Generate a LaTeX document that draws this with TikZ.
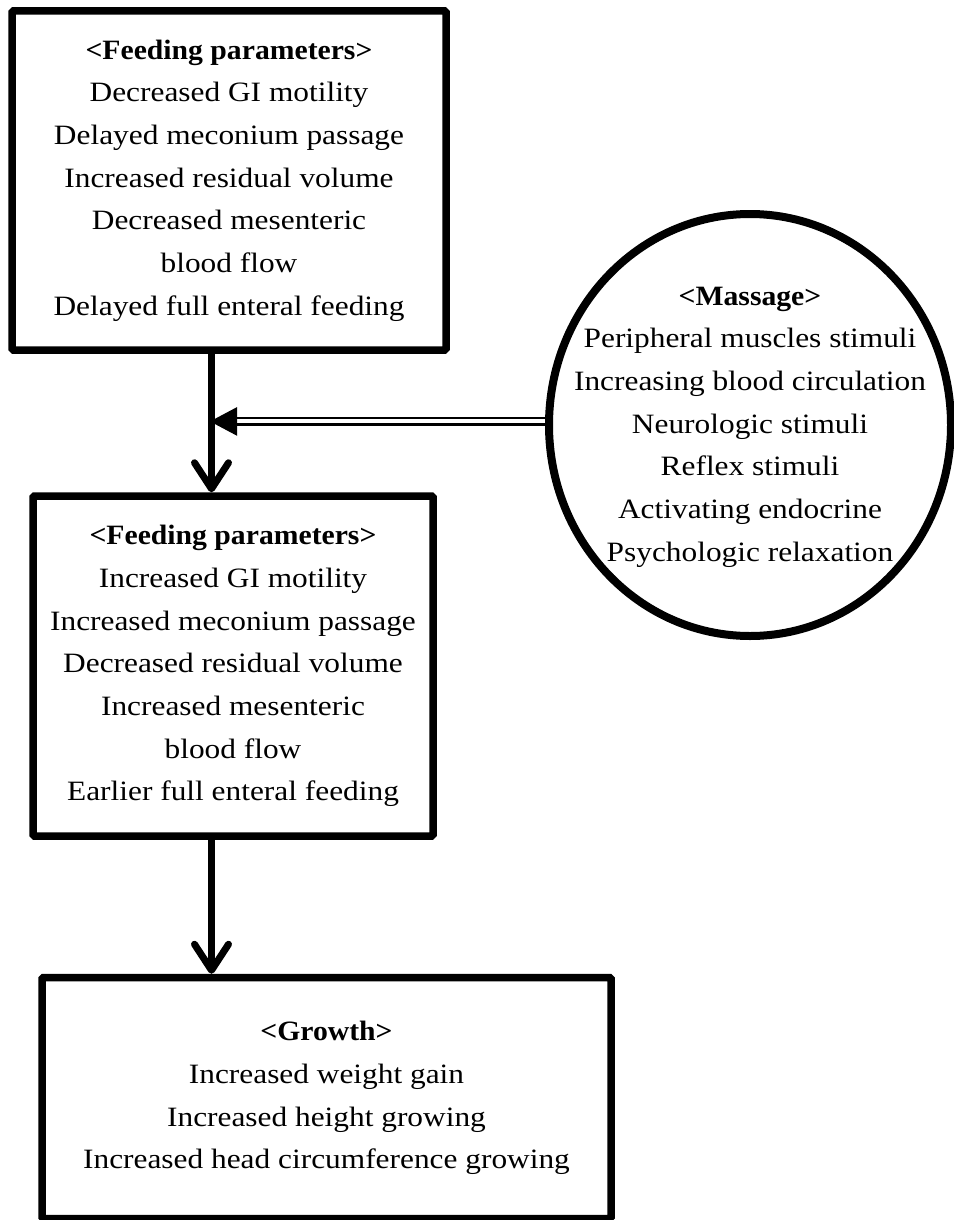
\documentclass[tikz,border=0pt]{standalone}
\usepackage{fontspec}
\setmainfont{Liberation Serif}[FakeStretch=1.12]
\newfontfamily\headfont{Liberation Serif}[FakeStretch=1.06]
\usetikzlibrary{arrows.meta,positioning,shapes.geometric}

\begin{document}
\begin{tikzpicture}[
  x=1pt,y=1pt,
  txt/.style={align=center,inner sep=0pt,font=\fontsize{28}{42.7}\selectfont},
  box/.style={txt,draw,line width=7.5pt,rounded corners=1.5pt},
  circ/.style={ellipse,draw,line width=8pt,inner sep=0pt,
    minimum width=402pt,minimum height=422pt},
  flow/.style={line width=7pt,-{Straight Barb[length=26pt,width=34pt,round]}},
  effect/.style={double,line width=2.5pt,double distance=4pt,
    -{Triangle[length=27pt,width=28pt]}}
]
\useasboundingbox (0,0) rectangle (953,-1220);
% feeding before massage
\node[box,minimum width=434pt,minimum height=339pt] (fpbefore) at (229,-180.5)
  {{\headfont\bfseries <Feeding parameters>}\\
   Decreased GI motility\\
   Delayed meconium passage\\
   Increased residual volume\\
   Decreased mesenteric\\
   blood flow\\
   Delayed full enteral feeding};
% feeding after massage
\node[box,minimum width=400pt,minimum height=340pt] (fpafter) at (233,-666)
  {{\headfont\bfseries <Feeding parameters>}\\
   Increased GI motility\\
   Increased meconium passage\\
   Decreased residual volume\\
   Increased mesenteric\\
   blood flow\\
   Earlier full enteral feeding};
% growth
\node[box,minimum width=569pt,minimum height=241pt] (growth) at (326.5,-1098)
  {{\headfont\bfseries <Growth>}\\
   Increased weight gain\\
   Increased height growing\\
   Increased head circumference growing};
% massage
\node[circ] (massage) at (750,-425) {};
\node[txt] (massagetext) at ([yshift=-2pt]massage.center)
  {{\headfont\bfseries <Massage>}\\
   Peripheral muscles stimuli\\
   Increasing blood circulation\\
   Neurologic stimuli\\
   Reflex stimuli\\
   Activating endocrine\\
   Psychologic relaxation};

\coordinate (spine) at (211.5,0);
\draw[flow] (fpbefore.south -| spine) -- (fpafter.north -| spine);
\draw[flow] (fpafter.south -| spine) -- (growth.north -| spine);
\draw[effect,shorten >=-1.5pt] (massage.179) -- (massage.179 -| spine);
\end{tikzpicture}
\end{document}
